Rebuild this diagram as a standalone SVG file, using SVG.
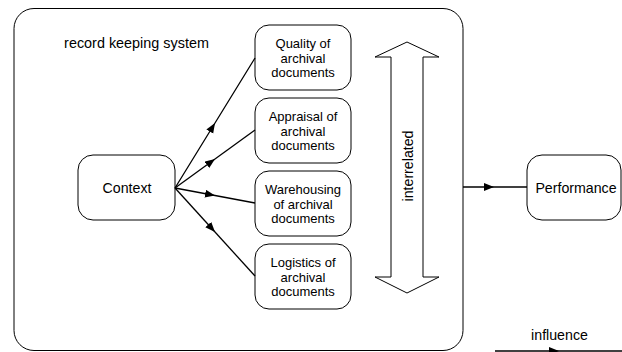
<svg xmlns="http://www.w3.org/2000/svg" width="622" height="352" viewBox="0 0 622 352">
<style>
.box{fill:#fff;stroke:#000;stroke-width:1}
.t{font-family:"Liberation Sans",Arial,sans-serif;fill:#000;text-anchor:middle}
.s{font-size:13px}
.m{font-size:14.2px}
.c{fill:none;stroke:#000;stroke-width:1.3}
</style>
<defs>
<marker id="ah" markerWidth="12" markerHeight="10" refX="10" refY="4" orient="auto" markerUnits="userSpaceOnUse">
<path d="M0,0 L10,4 L0,8 Z" fill="#000"/>
</marker>
</defs>
<rect width="622" height="352" fill="#fff"/>
<g id="system">
<rect class="box" x="14" y="8.5" width="449" height="342" rx="20"/>
<text class="t" x="136.5" y="48" style="font-size:14.4px">record keeping system</text>
</g>
<g id="context">
<rect class="box" x="78" y="155" width="97" height="65" rx="15"/>
<text class="t m" x="127" y="192.5">Context</text>
</g>
<g id="quality">
<rect class="box" x="255" y="25" width="96" height="65" rx="14"/>
<text class="t s" x="303" y="47.5">Quality of</text>
<text class="t s" x="303" y="62.5">archival</text>
<text class="t s" x="303" y="77">documents</text>
</g>
<g id="appraisal">
<rect class="box" x="255" y="98" width="96" height="65" rx="14"/>
<text class="t s" x="303" y="120.5">Appraisal of</text>
<text class="t s" x="303" y="135.5">archival</text>
<text class="t s" x="303" y="150">documents</text>
</g>
<g id="warehousing">
<rect class="box" x="255" y="171" width="96" height="65" rx="14"/>
<text class="t s" x="303" y="193.5">Warehousing</text>
<text class="t s" x="303" y="208.5">of archival</text>
<text class="t s" x="303" y="223">documents</text>
</g>
<g id="logistics">
<rect class="box" x="255" y="244" width="96" height="65" rx="14"/>
<text class="t s" x="303" y="266.5">Logistics of</text>
<text class="t s" x="303" y="281.5">archival</text>
<text class="t s" x="303" y="296">documents</text>
</g>
<g id="interrelated">
<polygon class="box" points="407,42 439,57 423,57 423,277 439,277 407,293 375,277 391,277 391,57 375,57"/>
<text class="t" style="font-size:14.2px" transform="translate(413,166) rotate(-90)">interrelated</text>
</g>
<g id="performance">
<rect class="box" x="527" y="155" width="94" height="65" rx="15"/>
<text class="t m" x="576" y="192.5">Performance</text>
</g>
<g id="connectors">
<path class="c" marker-mid="url(#ah)" d="M175,188 L215,123 L255,58"/>
<path class="c" marker-mid="url(#ah)" d="M175,188 L215,159 L255,130"/>
<path class="c" marker-mid="url(#ah)" d="M175,188 L215,195.5 L255,203"/>
<path class="c" marker-mid="url(#ah)" d="M175,188 L215,232 L255,276"/>
<path class="c" stroke-width="1" marker-mid="url(#ah)" d="M463,187 L494,187 L527,187"/>
</g>
<g id="legend">
<text class="t" style="font-size:14.2px" x="559.5" y="340">influence</text>
<path class="c" stroke-width="1.6" marker-mid="url(#ah)" d="M495,351 L559,351 L622,351"/>
</g>
</svg>
